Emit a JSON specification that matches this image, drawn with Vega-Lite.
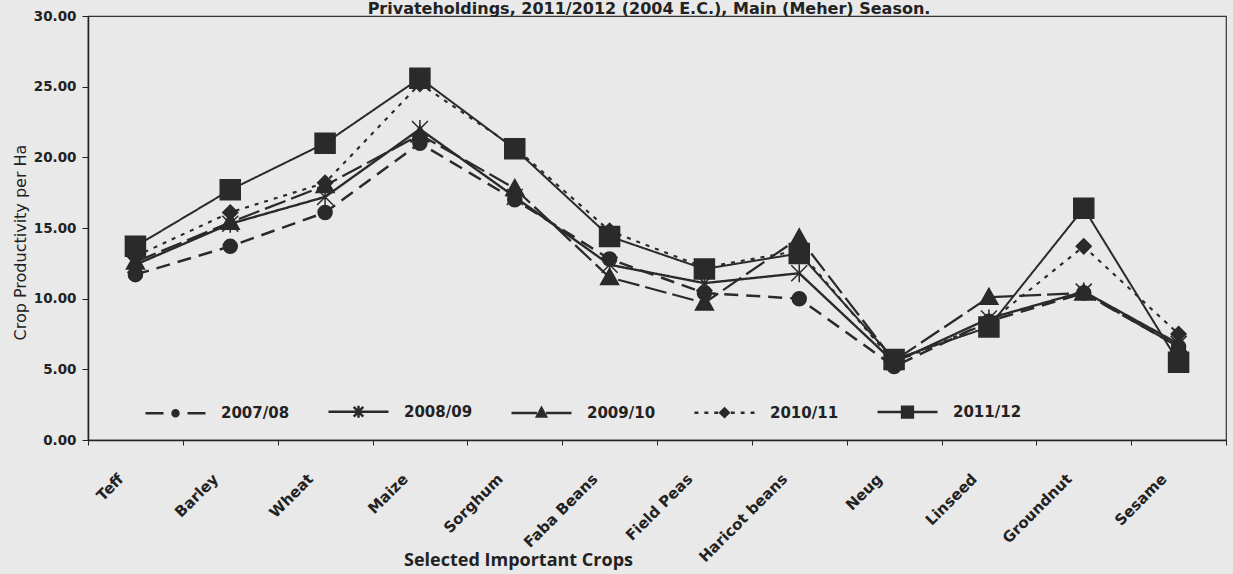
{
  "$schema": "https://vega.github.io/schema/vega-lite/v6.json",
  "width": 1138,
  "height": 424,
  "autosize": {"type": "none"},
  "padding": {"left": 88, "top": 16, "right": 7, "bottom": 134},
  "background": "#e9e9e9",
  "title": {"text": "Privateholdings, 2011/2012 (2004 E.C.), Main (Meher) Season.", "font": "DejaVu Sans", "fontWeight": "bold", "fontSize": 16, "color": "#222", "anchor": "middle", "offset": 1, "dx": -8, "dy": 9},
  "config": {"view": {"stroke": "#333", "strokeWidth": 1.2}, "axis": {"grid": false, "domainColor": "#222", "tickColor": "#222", "labelColor": "#222", "titleColor": "#222"}},
  "data": {"values": [
    {"crop": "Teff", "season": "2007/08", "value": 11.7}, {"crop": "Teff", "season": "2008/09", "value": 12.4}, {"crop": "Teff", "season": "2009/10", "value": 12.6}, {"crop": "Teff", "season": "2010/11", "value": 13.0}, {"crop": "Teff", "season": "2011/12", "value": 13.7},
    {"crop": "Barley", "season": "2007/08", "value": 13.7}, {"crop": "Barley", "season": "2008/09", "value": 15.3}, {"crop": "Barley", "season": "2009/10", "value": 15.4}, {"crop": "Barley", "season": "2010/11", "value": 16.1}, {"crop": "Barley", "season": "2011/12", "value": 17.7},
    {"crop": "Wheat", "season": "2007/08", "value": 16.1}, {"crop": "Wheat", "season": "2008/09", "value": 17.2}, {"crop": "Wheat", "season": "2009/10", "value": 18.0}, {"crop": "Wheat", "season": "2010/11", "value": 18.2}, {"crop": "Wheat", "season": "2011/12", "value": 21.0},
    {"crop": "Maize", "season": "2007/08", "value": 21.0}, {"crop": "Maize", "season": "2008/09", "value": 22.0}, {"crop": "Maize", "season": "2009/10", "value": 21.6}, {"crop": "Maize", "season": "2010/11", "value": 25.2}, {"crop": "Maize", "season": "2011/12", "value": 25.6},
    {"crop": "Sorghum", "season": "2007/08", "value": 17.0}, {"crop": "Sorghum", "season": "2008/09", "value": 17.2}, {"crop": "Sorghum", "season": "2009/10", "value": 17.8}, {"crop": "Sorghum", "season": "2010/11", "value": 20.7}, {"crop": "Sorghum", "season": "2011/12", "value": 20.6},
    {"crop": "Faba Beans", "season": "2007/08", "value": 12.8}, {"crop": "Faba Beans", "season": "2008/09", "value": 12.4}, {"crop": "Faba Beans", "season": "2009/10", "value": 11.5}, {"crop": "Faba Beans", "season": "2010/11", "value": 14.8}, {"crop": "Faba Beans", "season": "2011/12", "value": 14.4},
    {"crop": "Field Peas", "season": "2007/08", "value": 10.4}, {"crop": "Field Peas", "season": "2008/09", "value": 11.1}, {"crop": "Field Peas", "season": "2009/10", "value": 9.7}, {"crop": "Field Peas", "season": "2010/11", "value": 12.2}, {"crop": "Field Peas", "season": "2011/12", "value": 12.1},
    {"crop": "Haricot beans", "season": "2007/08", "value": 10.0}, {"crop": "Haricot beans", "season": "2008/09", "value": 11.8}, {"crop": "Haricot beans", "season": "2009/10", "value": 14.3}, {"crop": "Haricot beans", "season": "2010/11", "value": 13.4}, {"crop": "Haricot beans", "season": "2011/12", "value": 13.2},
    {"crop": "Neug", "season": "2007/08", "value": 5.2}, {"crop": "Neug", "season": "2008/09", "value": 5.5}, {"crop": "Neug", "season": "2009/10", "value": 5.6}, {"crop": "Neug", "season": "2010/11", "value": 5.5}, {"crop": "Neug", "season": "2011/12", "value": 5.7},
    {"crop": "Linseed", "season": "2007/08", "value": 8.4}, {"crop": "Linseed", "season": "2008/09", "value": 8.6}, {"crop": "Linseed", "season": "2009/10", "value": 10.1}, {"crop": "Linseed", "season": "2010/11", "value": 8.3}, {"crop": "Linseed", "season": "2011/12", "value": 8.0},
    {"crop": "Groundnut", "season": "2007/08", "value": 10.4}, {"crop": "Groundnut", "season": "2008/09", "value": 10.5}, {"crop": "Groundnut", "season": "2009/10", "value": 10.4}, {"crop": "Groundnut", "season": "2010/11", "value": 13.7}, {"crop": "Groundnut", "season": "2011/12", "value": 16.4},
    {"crop": "Sesame", "season": "2007/08", "value": 6.6}, {"crop": "Sesame", "season": "2008/09", "value": 6.8}, {"crop": "Sesame", "season": "2009/10", "value": 6.6}, {"crop": "Sesame", "season": "2010/11", "value": 7.5}, {"crop": "Sesame", "season": "2011/12", "value": 5.5}
  ]},
  "encoding": {
    "x": {"field": "crop", "type": "nominal", "sort": null, "bandPosition": 0.5,
      "scale": {"type": "band", "paddingInner": 0, "paddingOuter": 0},
      "axis": {"title": "Selected Important Crops", "labelAngle": -45, "labelAlign": "right", "labelBaseline": "middle", "labelPadding": 31, "labelOffset": -15, "labelFont": "DejaVu Sans", "labelFontWeight": "bold", "labelFontSize": 15, "tickBand": "extent", "tickSize": 5, "domainWidth": 1.5, "titleFont": "Open Sans", "titleFontWeight": "bold", "titleFontSize": 18, "titleX": 430, "titleY": 120, "titleBaseline": "middle"}},
    "y": {"field": "value", "type": "quantitative",
      "scale": {"domain": [0, 30], "nice": false},
      "axis": {"title": "Crop Productivity per Ha", "values": [0, 5, 10, 15, 20, 25, 30], "format": ".2f", "labelFont": "DejaVu Sans", "labelFontWeight": "bold", "labelFontSize": 13.5, "tickSize": 6, "labelPadding": 6, "domainWidth": 1.5, "titleFont": "DejaVu Sans", "titleFontWeight": "normal", "titleFontSize": 16, "titleX": -68, "titleY": 226, "titleAngle": 270, "titleAlign": "center", "titleBaseline": "middle"}}
  },
  "resolve": {"scale": {"shape": "independent"}, "legend": {"shape": "independent"}},
  "layer": [
    {
      "mark": {"type": "line", "color": "#2a2a2a"},
      "encoding": {
        "detail": {"field": "season"},
        "strokeDash": {"field": "season", "type": "nominal", "legend": null,
          "scale": {"domain": ["2007/08", "2008/09", "2009/10", "2010/11", "2011/12"], "range": [[14, 8], [1, 0], [22, 6], [4, 6], [1, 0]]}},
        "strokeWidth": {"field": "season", "type": "nominal", "legend": null,
          "scale": {"domain": ["2007/08", "2008/09", "2009/10", "2010/11", "2011/12"], "range": [2.5, 2, 3.5, 3, 2.5]}}
      }
    },
    {
      "mark": {"type": "point", "filled": true, "color": "#2a2a2a", "stroke": "#2a2a2a", "strokeWidth": 1.5, "size": 400, "opacity": 1},
      "encoding": {
        "shape": {"field": "season", "type": "nominal", "legend": null,
          "scale": {"domain": ["2007/08", "2008/09", "2009/10", "2010/11", "2011/12"],
            "range": ["M-0.7,0A0.7,0.7 0 1,0 0.7,0A0.7,0.7 0 1,0 -0.7,0Z", "M-0.8,-0.8L0.8,0.8M-0.8,0.8L0.8,-0.8M0,-0.9V0.9", "M0,-0.9L0.9,0.7L-0.9,0.7Z", "M0,-0.75L0.75,0L0,0.75L-0.75,0Z", "M-1,-1H1V1H-1Z"]}}
      }
    },
    {
      "mark": {"type": "point", "filled": true, "color": "#2a2a2a", "stroke": "#2a2a2a", "strokeWidth": 2.5, "size": 0},
      "encoding": {
        "shape": {"field": "season", "type": "nominal",
          "scale": {"range": [
            "M-1,0H-0.4M0.4,0H1M-0.1,0A0.1,0.1 0 1,0 0.1,0A0.1,0.1 0 1,0 -0.1,0Z",
            "M-1,0H1M-0.16,-0.16L0.16,0.16M-0.16,0.16L0.16,-0.16M0,-0.2V0.2",
            "M-1,0H-0.15M0.15,0H1M0,-0.16L0.15,0.12L-0.15,0.12Z",
            "M-1,0H-0.87M-0.67,0H-0.54M-0.34,0H-0.21M0.21,0H0.34M0.54,0H0.67M0.87,0H1M0,-0.14L0.14,0L0,0.14L-0.14,0Z",
            "M-1,0H-0.18M0.18,0H1M-0.18,-0.18H0.18V0.18H-0.18Z"]},
          "legend": {"title": null, "orient": "none", "legendX": 56, "legendY": 364, "direction": "horizontal", "columns": 5, "columnPadding": 33, "padding": 0, "symbolSize": 3600, "symbolStrokeWidth": 2.5, "symbolOpacity": 1, "labelOffset": 14, "labelFont": "DejaVu Sans", "labelFontWeight": "bold", "labelFontSize": 15, "labelColor": "#222"}
        }
      }
    }
  ]
}
